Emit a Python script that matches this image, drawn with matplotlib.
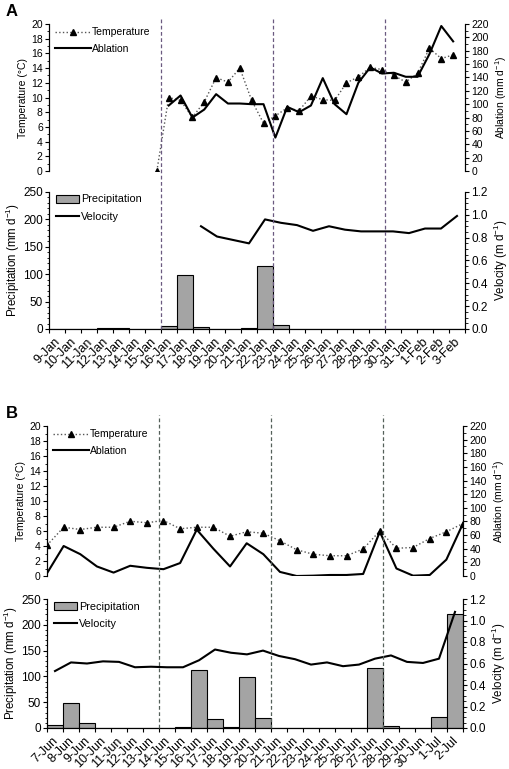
import numpy as np
import matplotlib
matplotlib.use("Agg")
import matplotlib.pyplot as plt
from matplotlib.lines import Line2D
from matplotlib.patches import Patch
from matplotlib.ticker import MultipleLocator, FixedLocator, NullFormatter, FormatStrFormatter
import matplotlib.transforms as mtransforms

plt.rcParams['font.family'] = ['Liberation Sans', 'DejaVu Sans']
plt.rcParams['mathtext.fontset'] = 'custom'
plt.rcParams['mathtext.rm'] = 'Liberation Sans'
plt.rcParams['mathtext.it'] = 'Liberation Sans'

nan = np.nan

# ---- panel A (January) ----
dates_a = ["9-Jan", "10-Jan", "11-Jan", "12-Jan", "13-Jan", "14-Jan", "15-Jan", "16-Jan",
           "17-Jan", "18-Jan", "19-Jan", "20-Jan", "21-Jan", "22-Jan", "23-Jan", "24-Jan",
           "25-Jan", "26-Jan", "27-Jan", "28-Jan", "29-Jan", "30-Jan", "31-Jan", "1-Feb",
           "2-Feb", "3-Feb"]
temp_a = [0.0, 10.0, 9.6, 7.3, 9.4, 12.7, 12.1, 14.0, 9.6, 6.5, 7.5, 8.6, 8.2, 10.2,
          9.7, 9.6, 12.0, 12.8, 14.1, 13.8, 13.0, 12.1, 13.3, 16.7, 15.3, 15.8]
abl_a = [nan, 98, 113, 80, 92, 115, 101, 101, 100, 100, 50, 96, 88, 98, 139, 100,
         85, 132, 155, 146, 147, 141, 141, 175, 217, 194]
precip_a = [0, 0, 0, 1, 1, 0, 0, 5, 98, 3, 0, 0, 1, 115, 8, 0, 0, 0, 0, 0, 0, 0, 0, 0, 0, 0]
vel_a = [nan, nan, nan, nan, nan, nan, nan, nan, nan, 0.90, 0.81, 0.78, 0.75, 0.96,
         0.93, 0.91, 0.86, 0.90, 0.87, 0.855, 0.855, 0.855, 0.84, 0.88, 0.88, 0.99]

# ---- panel B (June) ----
dates_b = ["7-Jun", "8-Jun", "9-Jun", "10-Jun", "11-Jun", "12-Jun", "13-Jun", "14-Jun",
           "15-Jun", "16-Jun", "17-Jun", "18-Jun", "19-Jun", "20-Jun", "21-Jun", "22-Jun",
           "23-Jun", "24-Jun", "25-Jun", "26-Jun", "27-Jun", "28-Jun", "29-Jun", "30-Jun",
           "1-Jul", "2-Jul"]
temp_b = [4.1, 6.5, 6.2, 6.5, 6.5, 7.3, 7.1, 7.4, 6.3, 6.5, 6.5, 5.3, 5.9, 5.7, 4.7,
          3.5, 2.9, 2.7, 2.7, 3.6, 6.0, 3.7, 3.8, 5.0, 5.9, 7.0]
abl_b = [4, 44, 32, 14, 5, 15, 12, 10, 19, 68, 40, 14, 48, 32, 6, 0, 0.5, 1.5, 1.5,
         3, 65, 11, 0.5, 1.5, 24, 77]
precip_b = [6, 49, 10, 0, 0, 0, 0, 0, 2, 113, 18, 2, 99, 19, 0, 0, 0, 0, 0, 0, 116, 4,
            0, 0, 22, 220]
vel_b = [0.53, 0.61, 0.60, 0.62, 0.615, 0.565, 0.57, 0.565, 0.565, 0.63, 0.73, 0.70,
         0.685, 0.72, 0.67, 0.64, 0.59, 0.61, 0.575, 0.59, 0.645, 0.675, 0.615, 0.605,
         0.645, 1.08]

W, H = 510, 769
fig = plt.figure(figsize=(W / 100, H / 100), dpi=100)


def rect(left, top, right, bottom):
    return [left / W, 1 - bottom / H, (right - left) / W, (bottom - top) / H]


def style_y(ax, major, minor, fs):
    ax.yaxis.set_major_locator(MultipleLocator(major))
    ax.yaxis.set_minor_locator(MultipleLocator(minor))
    ax.tick_params(axis='y', which='major', direction='out', length=3, width=0.8,
                   labelsize=fs, pad=1.5)
    ax.tick_params(axis='y', which='minor', direction='out', length=1.8, width=0.6)


def top_panel(r, x, temp, abl, xlim):
    ax = fig.add_axes(r)
    axr = ax.twinx()
    ax.plot(x, temp, ls=':', color='#555555', lw=1.0, marker='^', ms=4.5,
            mfc='black', mec='black', zorder=3)
    axr.plot(x, abl, '-', color='black', lw=1.5, zorder=2)
    ax.set_xlim(*xlim)
    ax.set_ylim(0, 20)
    axr.set_ylim(0, 220)
    for a in (ax, axr):
        a.set_xticks([])
        for s in ('top', 'bottom'):
            a.spines[s].set_visible(False)
        a.spines['left'].set_linewidth(0.8)
        a.spines['right'].set_linewidth(0.8)
    style_y(ax, 2, 1, 7.5)
    style_y(axr, 20, 10, 7.5)
    ax.set_ylabel("Temperature (°C)", fontsize=7.5, labelpad=2)
    axr.set_ylabel(r"Ablation (mm d$^{-1}$)", fontsize=7.5, labelpad=3)
    handles = [Line2D([], [], ls=':', color='#555555', lw=1.0, marker='^', ms=4.5,
                      mfc='black', mec='black'),
               Line2D([], [], ls='-', color='black', lw=1.5)]
    ax.legend(handles, ["Temperature", "Ablation"], loc='upper left',
              bbox_to_anchor=(0.0, 1.02), frameon=False, fontsize=7.5,
              handlelength=3.4, handletextpad=0.1, labelspacing=0.65,
              borderaxespad=0.2, numpoints=1)
    return ax, axr


def bottom_panel(r, precip, vel, dates):
    ax = fig.add_axes(r)
    axr = ax.twinx()
    n = len(dates)
    xc = np.arange(n) + 0.5
    ax.bar(xc, precip, width=1.0, color='#a4a4a4', edgecolor='black', lw=0.8, zorder=2)
    axr.plot(xc, vel, '-', color='black', lw=1.5, zorder=3)
    ax.set_xlim(0, n)
    ax.set_ylim(0, 250)
    axr.set_ylim(0, 1.2)
    ax.xaxis.set_major_locator(FixedLocator(np.arange(n + 1)))
    ax.xaxis.set_major_formatter(NullFormatter())
    # date labels sit with their ends near the left edge of each day slot
    ax.xaxis.set_minor_locator(FixedLocator(np.arange(n) + 0.3))
    ax.set_xticklabels(dates, minor=True, rotation=45, ha='right',
                       rotation_mode='anchor', fontsize=9)
    ax.tick_params(axis='x', which='major', direction='out', length=3, width=0.8)
    ax.tick_params(axis='x', which='minor', length=0, pad=5)
    for a in (ax, axr):
        a.spines['top'].set_visible(False)
        for s in ('left', 'right', 'bottom'):
            a.spines[s].set_linewidth(0.8)
    style_y(ax, 50, 10, 8.5)
    style_y(axr, 0.2, 0.05, 8.5)
    axr.yaxis.set_major_formatter(FormatStrFormatter('%.1f'))
    ax.set_ylabel(r"Precipitation (mm d$^{-1}$)", fontsize=8.3, labelpad=0.5)
    axr.set_ylabel(r"Velocity (m d$^{-1}$)", fontsize=8.3, labelpad=3)
    handles = [Patch(facecolor='#a4a4a4', edgecolor='black', lw=0.8),
               Line2D([], [], ls='-', color='black', lw=1.5)]
    ax.legend(handles, ["Precipitation", "Velocity"], loc='upper left',
              bbox_to_anchor=(0.0, 1.03), frameon=False, fontsize=7.8,
              handlelength=2.2, handleheight=0.75, handletextpad=0.15,
              labelspacing=0.7, borderaxespad=0.2)
    return ax, axr


# panel A
top_panel(rect(49, 24, 465, 171), np.arange(len(temp_a)), temp_a, abl_a, (-9.1, 26.0))
axa, _ = bottom_panel(rect(49, 192, 465, 329), precip_a, vel_a, dates_a)

# panel B
top_panel(rect(47, 426, 463, 576), np.arange(len(temp_b)), temp_b, abl_b, (0, 25))
axb, _ = bottom_panel(rect(47, 599, 463, 728), precip_b, vel_b, dates_b)

# dashed week separators spanning both charts of each panel
week_marks = [7, 14, 21]
for ax, y0, y1, col in ((axa, 329, 17, '#6b5a80'), (axb, 728, 415, '#55605a')):
    tr = mtransforms.blended_transform_factory(ax.transData, fig.transFigure)
    for xm in week_marks:
        fig.add_artist(Line2D([xm, xm], [1 - y0 / H, 1 - y1 / H], transform=tr,
                              ls=(0, (3, 2)), color=col, lw=0.9, zorder=5))

fig.text(6 / W, 1 - 12 / H, "A", fontsize=12, fontweight='bold', va='center')
fig.text(6 / W, 1 - 414 / H, "B", fontsize=12, fontweight='bold', va='center')

fig.savefig("out.png", dpi=100)
